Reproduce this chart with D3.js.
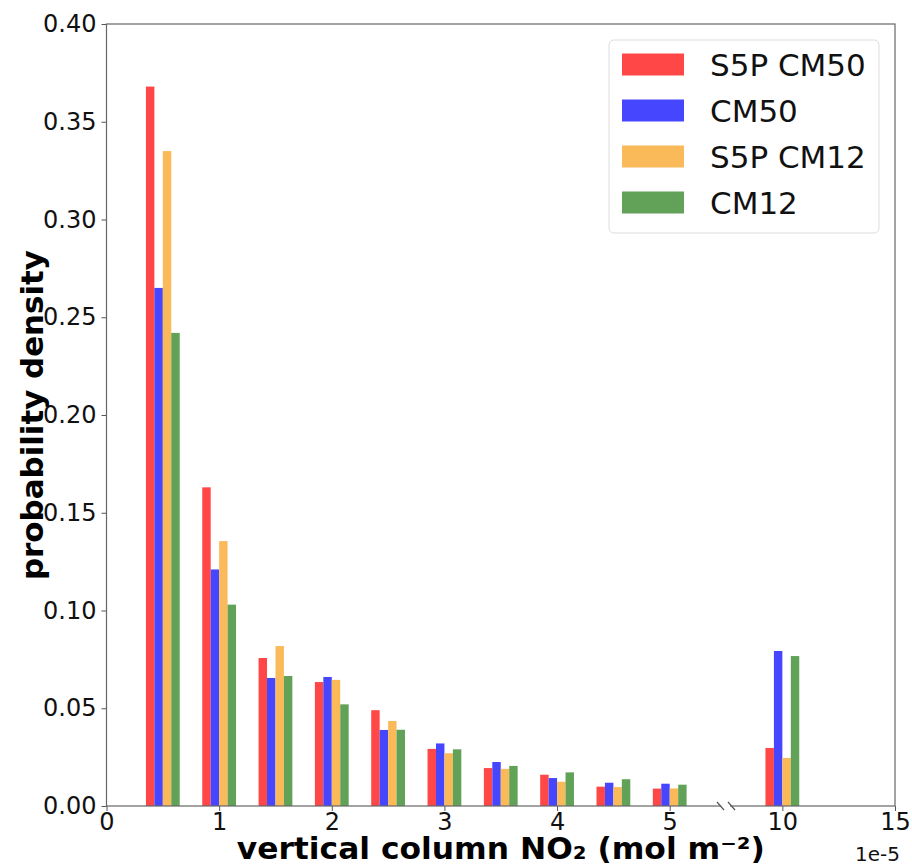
<!DOCTYPE html>
<html>
<head>
<meta charset="utf-8">
<script src="https://cdn.jsdelivr.net/npm/d3@7"></script>
<style>
  body { margin: 0; background: #fff; }
  svg { display: block; font-family: "DejaVu Sans", sans-serif; }
</style>
</head>
<body>
<svg id="chart" width="912" height="867"></svg>
<script>
// bin centres (x in units of 1e-5 mol m^-2)
var bins = [0.5, 1, 1.5, 2, 2.5, 3, 3.5, 4, 4.5, 5, 10];

// probability density per series
var s5pCM50 = [0.368, 0.163, 0.0757, 0.0634, 0.049, 0.0292, 0.0194, 0.016, 0.0099, 0.0089, 0.0297];
var cm50    = [0.265, 0.121, 0.0655, 0.066, 0.0389, 0.032, 0.0225, 0.0143, 0.0119, 0.0114, 0.0793];
var s5pCM12 = [0.335, 0.1355, 0.0818, 0.0645, 0.0435, 0.027, 0.019, 0.0124, 0.0097, 0.009, 0.0246];
var cm12    = [0.242, 0.103, 0.0665, 0.052, 0.039, 0.029, 0.0205, 0.0172, 0.0137, 0.0109, 0.0767];

var seriesNames = ['S5P CM50', 'CM50', 'S5P CM12', 'CM12'];
var seriesColors = ['#ff4747', '#4646ff', '#fbba5a', '#62a258'];

var xTicks = [0, 1, 2, 3, 4, 5, 10, 15];
var yTicks = [0, 0.05, 0.1, 0.15, 0.2, 0.25, 0.3, 0.35, 0.4];

(function () {

  var series = [s5pCM50, cm50, s5pCM12, cm12];

  var svg = d3.select('#chart');

  // plot box
  var pLeft = 106.5, pRight = 895, pTop = 24, pBottom = 806;

  // broken x axis: 0..5 linear, then 10 and 15 squeezed in
  var x = d3.scaleLinear()
    .domain([0, 5, 15])
    .range([pLeft, pLeft + 5 * (pRight - pLeft) / 7, pRight]);

  var y = d3.scaleLinear()
    .domain([0, 0.4])
    .range([pBottom, pTop]);

  var barW = x(0.075) - x(0);

  // bars
  series.forEach(function (vals, i) {
    svg.append('g')
      .selectAll('rect')
      .data(bins)
      .enter()
      .append('rect')
      .attr('x', function (d) { return x(d) + (i - 2) * barW; })
      .attr('y', function (d, j) { return y(vals[j]); })
      .attr('width', barW)
      .attr('height', function (d, j) { return pBottom - y(vals[j]); })
      .attr('fill', seriesColors[i]);
  });

  // axes
  var xAxis = svg.append('g')
    .attr('transform', 'translate(0,' + pBottom + ')')
    .call(d3.axisBottom(x).tickValues(xTicks).tickSize(5).tickPadding(2)
      .tickFormat(function (d) { return String(d); }));

  var yAxis = svg.append('g')
    .attr('transform', 'translate(' + pLeft + ',0)')
    .call(d3.axisLeft(y).tickValues(yTicks).tickSize(5).tickPadding(5)
      .tickFormat(d3.format('.2f')));

  [xAxis, yAxis].forEach(function (ax) {
    ax.select('.domain').remove();
    ax.selectAll('line').attr('stroke', '#555');
    ax.selectAll('text')
      .attr('fill', '#111')
      .style('font-size', '24px')
      .style('font-family', '"DejaVu Sans", sans-serif');
  });

  // frame
  svg.append('rect')
    .attr('x', pLeft)
    .attr('y', pTop)
    .attr('width', pRight - pLeft)
    .attr('height', pBottom - pTop)
    .attr('fill', 'none')
    .attr('stroke', '#666')
    .attr('stroke-width', 1.2);

  // break marks between 5 and 10
  svg.append('rect')
    .attr('x', 721)
    .attr('y', pBottom - 3)
    .attr('width', 9)
    .attr('height', 6)
    .attr('fill', '#fff');
  [717, 728].forEach(function (bx) {
    svg.append('line')
      .attr('x1', bx).attr('y1', pBottom - 4)
      .attr('x2', bx + 7).attr('y2', pBottom + 4)
      .attr('stroke', '#555')
      .attr('stroke-width', 1.2);
  });

  // axis labels
  svg.append('text')
    .attr('x', (pLeft + pRight) / 2)
    .attr('y', 859)
    .attr('text-anchor', 'middle')
    .style('font-size', '30px')
    .style('font-weight', 'bold')
    .attr('textLength', 528)
    .attr('lengthAdjust', 'spacingAndGlyphs')
    .text('vertical column NO\u2082 (mol m\u207B\u00B2)');

  svg.append('text')
    .attr('transform', 'translate(43,' + (pTop + pBottom) / 2 + ') rotate(-90)')
    .attr('text-anchor', 'middle')
    .style('font-size', '31px')
    .style('font-weight', 'bold')
    .attr('textLength', 330)
    .attr('lengthAdjust', 'spacingAndGlyphs')
    .text('probability density');

  svg.append('text')
    .attr('x', pRight + 5)
    .attr('y', 861)
    .attr('text-anchor', 'end')
    .style('font-size', '20px')
    .attr('fill', '#111')
    .text('1e-5');

  // legend
  var legend = svg.append('g');
  legend.append('rect')
    .attr('x', 609)
    .attr('y', 40)
    .attr('width', 270)
    .attr('height', 193)
    .attr('rx', 5)
    .attr('fill', '#fff')
    .attr('fill-opacity', 0.8)
    .attr('stroke', '#ddd');

  seriesNames.forEach(function (name, i) {
    var cy = 64.5 + i * 46;
    legend.append('rect')
      .attr('x', 622)
      .attr('y', cy - 11)
      .attr('width', 62)
      .attr('height', 22)
      .attr('fill', seriesColors[i]);
    legend.append('text')
      .attr('x', 710)
      .attr('y', cy + 11)
      .style('font-size', '31px')
      .attr('fill', '#111')
      .text(name);
  });
})();
</script>
</body>
</html>
